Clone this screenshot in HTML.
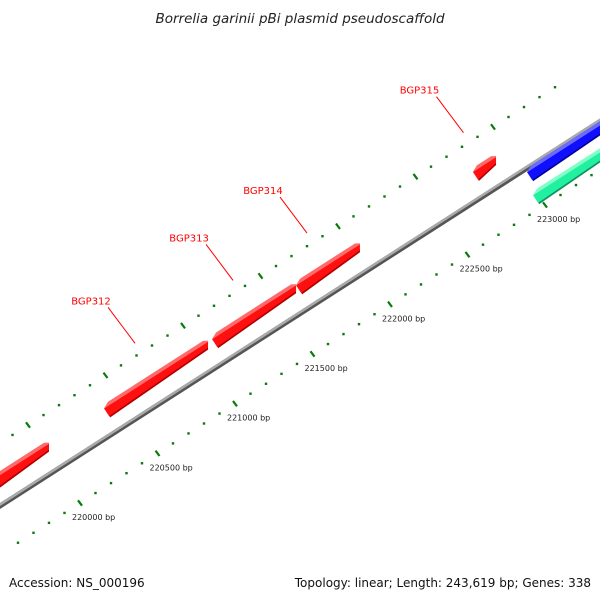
<!DOCTYPE html>
<html><head><meta charset="utf-8"><style>
body{margin:0;background:#fff}
svg{display:block;font-family:"DejaVu Sans","Liberation Sans",sans-serif}
</style></head><body>
<svg id="chart" width="600" height="600" viewBox="0 0 600 600" xmlns="http://www.w3.org/2000/svg">
<text x="300" y="23" text-anchor="middle" font-size="13.5" font-style="italic" fill="#222">Borrelia garinii pBi plasmid pseudoscaffold</text>
<g id="ticks"></g>
<line x1="-10" y1="512.4" x2="620" y2="108.6" stroke="#555" stroke-width="5"/>
<line x1="-10" y1="511" x2="620" y2="107" stroke="#aaa" stroke-width="2.5"/>
<g id="genes"></g>
<g id="labels"></g>
<text x="9" y="587" font-size="12" fill="#111">Accession: NS_000196</text>
<text x="591" y="587" text-anchor="end" font-size="12" fill="#111">Topology: linear; Length: 243,619 bp; Genes: 338</text>
</svg>
<script>
const tickStart = 219600, tickEnd = 223400, tickStep = 100, majorStep = 500;
const geneNames = ["", "BGP312", "BGP313", "BGP314", "BGP315", "", ""];
const geneStarts = [219420, 220155, 220852, 221394, 222535, 222884, 222923];
const geneEnds = [219800, 220826, 221394, 221806, 222684, 223700, 223700];
const geneStrands = ["red", "red", "red", "red", "red", "blue", "green"];
const labeled = [false, true, true, true, true, false, false];

const NS = "http://www.w3.org/2000/svg";
const SLOPE = -0.641;
function bx(bp){ return 80 + (bp - 220000) * 0.155; }
function by(bp){ return 503 + (bp - 220000) * 0.155 * SLOPE; }
function mk(tag, attrs){ const e = document.createElementNS(NS, tag); for (const k in attrs) e.setAttribute(k, attrs[k]); return e; }

const tg = document.getElementById("ticks");
for (let bp = tickStart; bp <= tickEnd; bp += tickStep) {
  const major = bp % majorStep === 0;
  [[0,0],[-52,-78]].forEach((off, row) => {
    const x = bx(bp) + off[0], y = by(bp) + off[1];
    let el;
    if (major) el = mk("line", {x1:x-2, y1:y-2.7, x2:x+2, y2:y+2.7, stroke:"#0a7a0a", "stroke-width":2.2});
    else el = mk("rect", {x:x-1.2, y:y-1.2, width:2.4, height:2.4, fill:"#0a7a0a"});
    
    
    tg.appendChild(el);
    if (major && row === 0) {
      const t = mk("text", {x:x-8, y:y+17, "font-size":8, fill:"#222"});
      t.textContent = bp + " bp";
      
      
      tg.appendChild(t);
    }
  });
}

const lanes = {red:{x0:156,y0:378,c:"#ff1010",top:"#ff6a6a",dark:"#b00000"},
               blue:{x0:563,y0:152,c:"#1010ff",top:"#6a6aff",dark:"#0000a0"},
               green:{x0:566,y0:177,c:"#20f0a0",top:"#80ffc8",dark:"#109060"}};
const gg = document.getElementById("genes");
const lg = document.getElementById("labels");
function pts(a){ return a.map(p=>p.join(",")).join(" "); }
for (let i = 0; i < geneStarts.length; i++) {
  const L = lanes[geneStrands[i]];
  const yc = x => L.y0 + SLOPE * (x - L.x0);
  const x1 = bx(geneStarts[i]), x2 = bx(geneEnds[i]);
  const g = mk("g", {});
  
  
  const under = mk("polygon", {points:pts([
    [x1+5, yc(x1+5)+7],[x2, yc(x2)+2],[x2, yc(x2)+5],[x1+6, yc(x1+6)+10]]), fill:L.dark});
  const body = mk("polygon", {points:pts([
    [x1, yc(x1)-3],[x2, yc(x2)-3],[x2, yc(x2)+3],[x1+5, yc(x1+5)+8]]), fill:L.c});
  const top = mk("polygon", {points:pts([
    [x1, yc(x1)-3],[x1+4, yc(x1+4)-7],[x2-5, yc(x2-5)-7],[x2, yc(x2)-4],[x2, yc(x2)-3]]), fill:L.top});
  g.appendChild(under); g.appendChild(body); g.appendChild(top);
  gg.appendChild(g);
  if (labeled[i]) {
    const mb = (geneStarts[i] + geneEnds[i]) / 2;
    const px = bx(mb) - 21, py = by(mb) - 111;
    const ln = mk("line", {x1:px-27, y1:py-36, x2:px, y2:py, stroke:"#ff0000", "stroke-width":1});
    
    
    lg.appendChild(ln);
    const t = mk("text", {x:px-44, y:py-39, "text-anchor":"middle", "font-size":10, fill:"#ff0000"});
    t.textContent = geneNames[i];
    
    
    lg.appendChild(t);
  }
}
</script>
</body></html>
